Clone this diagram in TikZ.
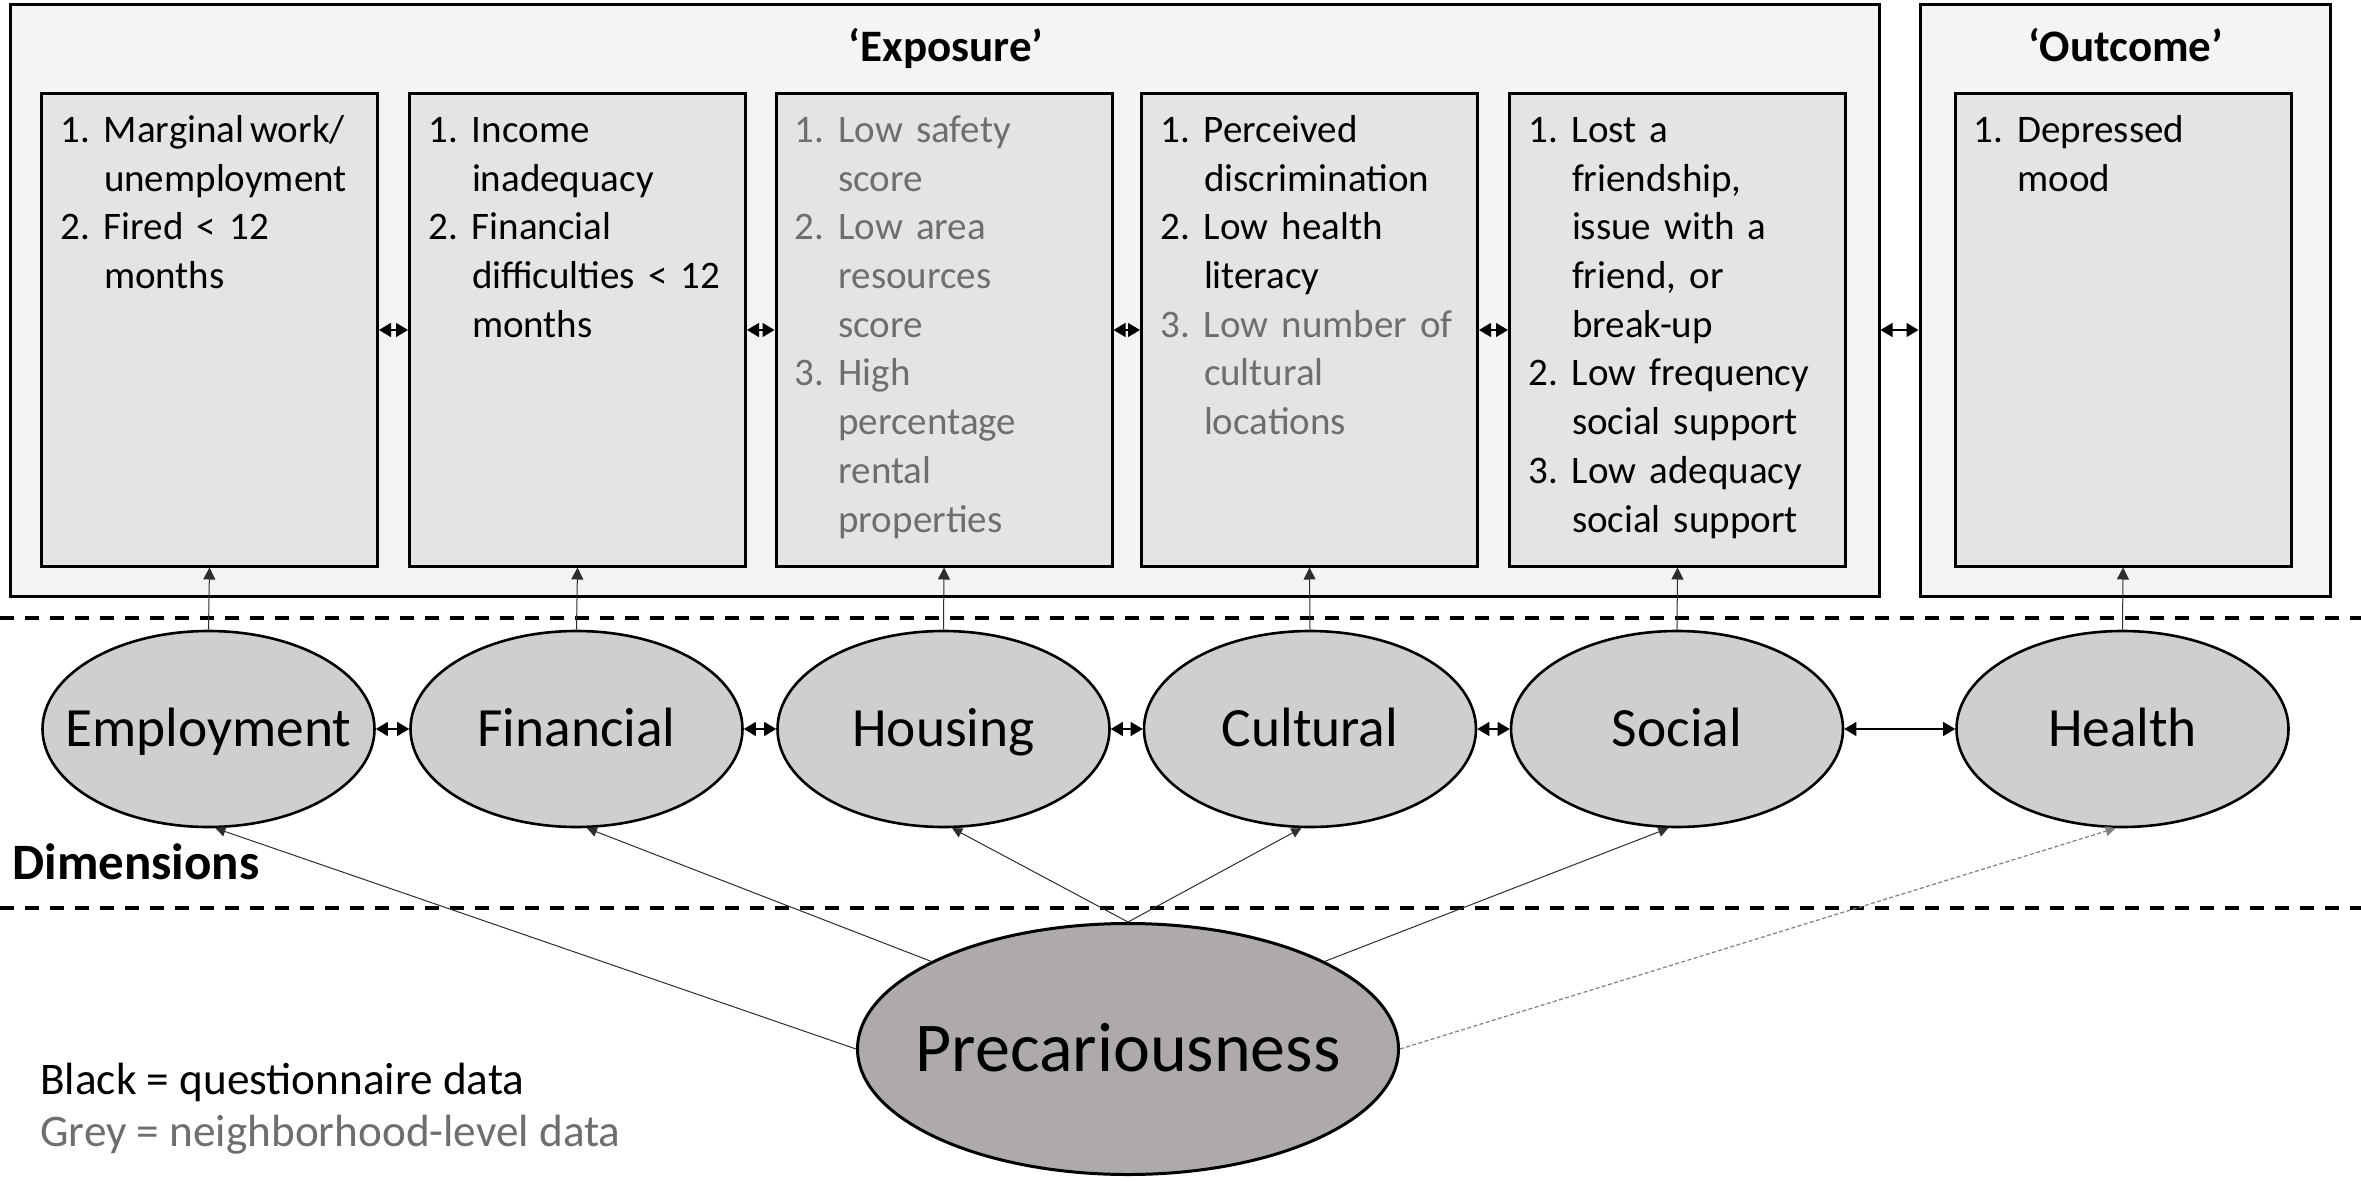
\documentclass[tikz,border=0pt]{standalone}
\usepackage{fontspec}
\setmainfont{Carlito}
\usetikzlibrary{arrows.meta,shapes.geometric}
\definecolor{outerfill}{HTML}{F4F4F4}
\definecolor{boxfill}{HTML}{E4E4E4}
\definecolor{dimfill}{HTML}{D0CECE}
\definecolor{precfill}{HTML}{AEAAAA}
\definecolor{greytext}{HTML}{6E6E6E}
\definecolor{linegrey}{HTML}{2E2E2E}
\newcommand\numit[2]{\makebox[21.8pt][l]{#1}#2}
\newcommand\contit[1]{\hspace*{21.8pt}#1}
\newcommand\zw[1]{\makebox[0pt]{#1}}
\begin{document}
\begin{tikzpicture}[x=0.5pt,y=-0.5pt,
  outerbox/.style={draw, line width=1.5pt, fill=outerfill, inner sep=0, minimum height=295.5pt},
  inbox/.style={draw, line width=1.5pt, fill=boxfill, minimum width=168pt, minimum height=236pt, inner sep=0},
  itemtext/.style={anchor=base west, text width=165pt, align=left, inner sep=0, font=\fontsize{19.5}{24.35}\selectfont},
  title/.style={anchor=base, inner sep=0, font=\fontsize{22.5}{26}\selectfont\bfseries},
  dim/.style={ellipse, draw, line width=1.3pt, fill=dimfill, minimum width=166pt, minimum height=98pt, inner sep=0, text height=17.5pt, text depth=0pt, font=\fontsize{27.7}{32}\selectfont},
  prec/.style={ellipse, draw, line width=1.5pt, fill=precfill, minimum width=270.5pt, minimum height=125.5pt, inner sep=0, text height=22pt, text depth=0pt, font=\fontsize{35}{40}\selectfont},
  bidir/.style={line width=0.6pt, arrows={Triangle[length=6pt,width=7pt]-Triangle[length=6pt,width=7pt]}},
  uparrow/.style={line width=0.5pt, draw=linegrey, arrows={-Triangle[length=6pt,width=6pt]}},
  loadarrow/.style={line width=0.5pt, draw=linegrey, arrows={-Triangle[length=5pt,width=5pt]}},
  loaddotted/.style={line width=0.6pt, draw=gray, dash pattern=on 2pt off 1.2pt, arrows={-Triangle[length=5pt,width=5pt]}},
  divider/.style={line width=1.75pt, dash pattern=on 7pt off 5.5pt},
  legend/.style={anchor=base west, inner sep=0, font=\fontsize{22.6}{26}\selectfont}
]
\useasboundingbox (0,0) rectangle (2361,1182);
\fill[white] (0,0) rectangle (2361,1182);

% dividers
\coordinate (d1l) at (0,618);
\coordinate (d1r) at (2361,618);
\coordinate (d2l) at (0,908);
\coordinate (d2r) at (2361,908);
\draw[divider] (d1l) -- (d1r);
\draw[divider] (d2l) -- (d2r);

% outer boxes
\node[outerbox, minimum width=934.25pt] (expo) at (944.75,300.5) {};
\node[outerbox, minimum width=205pt] (outc) at (2125,300.5) {};
\node[title] (expot) at (946,62) {‘Exposure’};
\node[title] (outct) at (2126,62) {‘Outcome’};

% inner boxes
\node[inbox] (b1) at (209.5,330) {};
\node[inbox] (b2) at (577.5,330) {};
\node[inbox] (b3) at (944,330) {};
\node[inbox] (b4) at (1309.5,330) {};
\node[inbox] (b5) at (1677.5,330) {};
\node[inbox] (bo) at (2123,330) {};

\node[itemtext] (t1) at ([shift={(20,50)}]b1.north west) {%
\numit{1.}{Marginal\hspace{0.15em}work/}\\
\contit{unemployment}\\
\numit{2.}{Fired < 12}\\
\contit{months}};
\node[itemtext] (t2) at ([shift={(20,50)}]b2.north west) {%
\numit{1.}{Income}\\
\contit{inadequacy}\\
\numit{2.}{Financial}\\
\contit{difficulties < 12}\\
\contit{months}};
\node[itemtext, text=greytext] (t3) at ([shift={(20,50)}]b3.north west) {%
\numit{1.}{Low safety}\\
\contit{score}\\
\numit{2.}{Low area}\\
\contit{resources}\\
\contit{score}\\
\numit{3.}{High}\\
\contit{percentage}\\
\contit{rental}\\
\contit{properties}};
\node[itemtext] (t4) at ([shift={(20,50)}]b4.north west) {%
\numit{1.}{Perceived}\\
\contit{discrimination}\\
\numit{2.}{Low health}\\
\contit{literacy}\\
\textcolor{greytext}{\numit{3.}{Low number of}}\\
\textcolor{greytext}{\contit{cultural}}\\
\textcolor{greytext}{\contit{locations}}};
\node[itemtext] (t5) at ([shift={(20,50)}]b5.north west) {%
\numit{1.}{Lost a}\\
\contit{friendship,}\\
\contit{issue with a}\\
\contit{friend, or}\\
\contit{break-up}\\
\numit{2.}{Low frequency}\\
\contit{social support}\\
\numit{3.}{Low adequacy}\\
\contit{social support}};
\node[itemtext] (to) at ([shift={(20,50)}]bo.north west) {%
\numit{1.}{Depressed}\\
\contit{mood}};

% arrows between boxes
\draw[bidir] (b1.east) -- (b2.west);
\draw[bidir] (b2.east) -- (b3.west);
\draw[bidir] (b3.east) -- (b4.west);
\draw[bidir] (b4.east) -- (b5.west);
\draw[bidir] (b5.east -| expo.east) -- (bo.west -| outc.west);

% dimension ellipses
\node[dim] (emp) at (208.5,729) {\zw{Employment}};
\node[dim] (fin) at (576.5,729) {\zw{Financial}};
\node[dim] (hou) at (943.5,729) {\zw{Housing}};
\node[dim] (cul) at (1310,729) {\zw{Cultural}};
\node[dim] (soc) at (1677,729) {\zw{Social}};
\node[dim] (hea) at (2122.5,729) {\zw{Health}};

\draw[bidir] (emp.east) -- (fin.west);
\draw[bidir] (fin.east) -- (hou.west);
\draw[bidir] (hou.east) -- (cul.west);
\draw[bidir] (cul.east) -- (soc.west);
\draw[bidir] (soc.east) -- (hea.west);

% ellipse to box arrows
\draw[uparrow] (emp.north) -- (b1.south);
\draw[uparrow] (fin.north) -- (b2.south);
\draw[uparrow] (hou.north) -- (b3.south);
\draw[uparrow] (cul.north) -- (b4.south);
\draw[uparrow] (soc.north) -- (b5.south);
\draw[uparrow] (hea.north) -- (bo.south);

% labels
\node[anchor=base west, inner sep=0, font=\fontsize{25.5}{30}\selectfont\bfseries] (dimlab) at (12,879) {Dimensions};
\node[legend] (leg1) at (40,1094) {Black = questionnaire data};
\node[legend, text=greytext] (leg2) at (40,1146) {Grey = neighborhood-level data};

% precariousness
\node[prec] (prc) at (1128,1049) {\zw{Precariousness}};
\draw[loadarrow] (prc.west) -- (emp.-86);
\draw[loadarrow] (prc.156) -- (fin.-84);
\draw[loadarrow] (prc.north) -- (hou.-85);
\draw[loadarrow] (prc.north) -- (cul.-95);
\draw[loadarrow] (prc.24) -- (soc.-95);
\draw[loaddotted] (prc.east) -- (hea.-94);
\end{tikzpicture}
\end{document}
